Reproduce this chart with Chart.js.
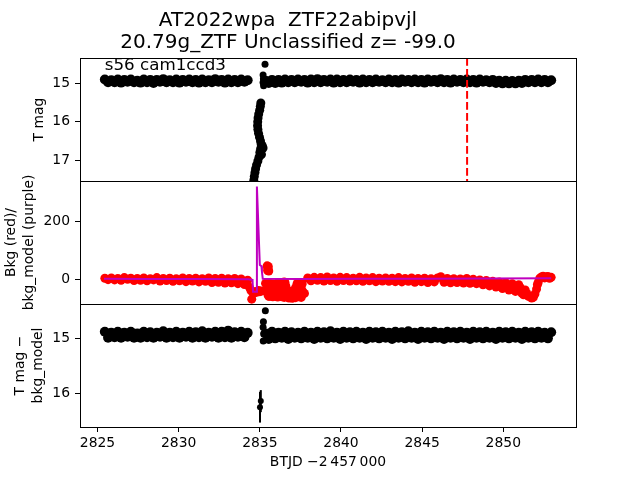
<!DOCTYPE html>
<html>
<head>
<meta charset="utf-8">
<script src="https://cdn.jsdelivr.net/npm/chart.js@4.4.0/dist/chart.umd.min.js"></script>
<style>
    html, body { margin: 0; padding: 0; background: #fff; }
    #wrap { width: 640px; height: 480px; }
</style>
</head>
<body>
<div id="wrap"><canvas id="lcChart" width="640" height="480"></canvas></div>
<script>
// ============ Data ============
const titleLines = ['AT2022wpa  ZTF22abipvjl', '20.79g_ZTF Unclassified z= -99.0'];
const sectorLabel = 's56 cam1ccd3';

const xTicks = [2825, 2830, 2835, 2840, 2845, 2850];
const magTicks = [15, 16, 17];
const bkgTicks = [0, 200];
const diffTicks = [15, 16];

const xRange = [2823.92, 2854.48];
const magRange = [14.34, 17.54];
const bkgRange = [-87, 342];
const diffRange = [14.376, 16.61];

const flagTime = 2847.77;

// sampled times of the two orbits (before / after the gap)
const timesLeft = [
    2825.45, 2825.65, 2825.85, 2826.05, 2826.25, 2826.45, 2826.65, 2826.85, 2827.05, 2827.25,
    2827.45, 2827.65, 2827.85, 2828.05, 2828.25, 2828.45, 2828.65, 2828.85, 2829.05, 2829.25,
    2829.45, 2829.65, 2829.85, 2830.05, 2830.25, 2830.45, 2830.65, 2830.85, 2831.05, 2831.25,
    2831.45, 2831.65, 2831.85, 2832.05, 2832.25, 2832.45, 2832.65, 2832.85, 2833.05, 2833.25,
    2833.45, 2833.65, 2833.85, 2834.05, 2834.25
];
const timesRight = [
    2835.35, 2835.55, 2835.75, 2835.95, 2836.15, 2836.35, 2836.55, 2836.75, 2836.95, 2837.15,
    2837.35, 2837.55, 2837.75, 2837.95, 2838.15, 2838.35, 2838.55, 2838.75, 2838.95, 2839.15,
    2839.35, 2839.55, 2839.75, 2839.95, 2840.15, 2840.35, 2840.55, 2840.75, 2840.95, 2841.15,
    2841.35, 2841.55, 2841.75, 2841.95, 2842.15, 2842.35, 2842.55, 2842.75, 2842.95, 2843.15,
    2843.35, 2843.55, 2843.75, 2843.95, 2844.15, 2844.35, 2844.55, 2844.75, 2844.95, 2845.15,
    2845.35, 2845.55, 2845.75, 2845.95, 2846.15, 2846.35, 2846.55, 2846.75, 2846.95, 2847.15,
    2847.35, 2847.55, 2847.75, 2847.95, 2848.15, 2848.35, 2848.55, 2848.75, 2848.95, 2849.15,
    2849.35, 2849.55, 2849.75, 2849.95, 2850.15, 2850.35, 2850.55, 2850.75, 2850.95, 2851.15,
    2851.35, 2851.55, 2851.75, 2851.95, 2852.15, 2852.35, 2852.55, 2852.75, 2852.95
];

// panel 1: T mag
const magLeft = [
    14.90, 14.97, 14.92, 14.97, 14.90, 14.98, 14.91, 14.96, 14.90, 14.97,
    14.93, 14.98, 14.90, 14.97, 14.91, 14.99, 14.91, 14.96, 14.89, 14.97,
    14.92, 14.97, 14.90, 14.98, 14.91, 14.96, 14.90, 14.97, 14.91, 14.98,
    14.90, 14.97, 14.92, 14.97, 14.89, 14.96, 14.91, 14.98, 14.90, 14.97,
    14.91, 14.97, 14.90, 14.96, 14.92
];
const magRight = [
    14.93, 14.99, 14.91, 14.99, 14.91, 14.98, 14.90, 14.97, 14.91, 14.97,
    14.90, 14.96, 14.91, 14.98, 14.90, 14.97, 14.89, 14.97, 14.91, 14.96,
    14.90, 14.98, 14.90, 14.97, 14.91, 14.97, 14.90, 14.96, 14.91, 14.98,
    14.90, 14.97, 14.91, 14.97, 14.90, 14.96, 14.92, 14.97, 14.90, 14.97,
    14.91, 14.98, 14.90, 14.96, 14.91, 14.97, 14.90, 14.97, 14.91, 14.98,
    14.90, 14.96, 14.91, 14.97, 14.89, 14.97, 14.91, 14.98, 14.90, 14.96,
    14.91, 14.97, 14.90, 14.97, 14.91, 14.98, 14.90, 14.96, 14.92, 14.97,
    14.91, 14.99, 14.93, 15.00, 14.93, 15.00, 14.94, 15.00, 14.93, 14.99,
    14.91, 14.97, 14.91, 14.97, 14.90, 14.97, 14.91, 14.97, 14.92
];
const magExtraT = [2835.32, 2835.20, 2835.22, 2835.20, 2835.23];
const magExtraV = [14.50, 14.78, 14.88, 14.98, 15.06];
const streakT = [
    2835.06, 2835.03, 2834.99, 2834.93, 2834.89, 2834.87, 2834.86, 2834.88, 2834.92, 2834.98,
    2835.04, 2835.08, 2835.15, 2835.20, 2835.05, 2835.00, 2835.10, 2834.95, 2834.88, 2834.80,
    2834.74, 2834.70, 2834.66, 2834.63, 2834.62
];
const streakMag = [
    15.51, 15.60, 15.70, 15.80, 15.90, 16.00, 16.10, 16.20, 16.30, 16.40,
    16.50, 16.58, 16.62, 16.68, 16.70, 16.80, 16.85, 16.92, 17.02, 17.12,
    17.22, 17.32, 17.42, 17.52, 17.60
];

// panel 2: background flux (red) and background model (purple)
const bkgLeft = [
    3, -2, 4, -3, 2, -4, 5, -1, 3, -5,
    2, -4, 4, -6, 1, -3, 5, -7, 2, -5,
    3, -8, 1, -6, 4, -9, 2, -7, 3, -10,
    1, -8, 4, -12, 2, -11, 3, -14, 1, -13,
    2, -16, 0, -19, -4
];
const bkgRight = [
    -15, -60, -20, -55, -12, -62, -12, -58, -45, -60,
    -40, -64, -50, 4, -6, 6, -4, 5, -7, 7,
    -5, 4, -8, 6, -5, 5, -7, 3, -6, 6,
    -8, 4, -6, 5, -9, 3, -7, 4, -8, 3,
    -9, 5, -10, 2, -8, 4, -11, 2, -9, 3,
    -12, 1, -10, 4, 8, -11, 2, -13, 1, -12,
    0, -14, 2, -15, -1, -16, -3, -20, -5, -24,
    -8, -28, -10, -33, -13, -38, -16, -43, -20, -50,
    -38, -60, -66, -52, -12, 7, 4, 9, 6
];
const bkgExtraT = [
    2834.35, 2834.45, 2834.50, 2834.55, 2834.62, 2834.70, 2834.80, 2834.92, 2835.00, 2835.10,
    2835.45, 2835.48, 2835.50, 2835.52, 2835.55,
    2835.45, 2835.65, 2835.85, 2836.05, 2836.25, 2836.45, 2836.50, 2836.65, 2836.85, 2837.05,
    2837.25, 2837.30, 2837.45, 2837.60, 2837.65,
    2850.85, 2851.05, 2851.25, 2851.45, 2851.65, 2851.85, 2852.05, 2852.10, 2852.25, 2852.45,
    2852.65, 2852.85
];
const bkgExtraV = [
    -28, -40, -70, -45, -50, -44, -46, -40, -44, -42,
    46, 30, 38, 44, 28,
    -35, -40, -45, -30, -40, -48, -10, -55, -62, -50,
    -55, -15, -30, -12, -45,
    -28, -30, -55, -50, -62, -64, -35, -20, 3, 10,
    8, 3
];
// the deep background dip right after the gap
const dipT = [
    2835.5, 2835.6, 2835.7, 2835.8, 2835.9, 2836.0, 2836.1, 2836.2, 2836.3, 2836.4, 2836.5,
    2836.6, 2836.7, 2836.8, 2836.9, 2837.0, 2837.1, 2837.2, 2837.3, 2837.4, 2837.5, 2837.6
];
const dipUpper = [-18, -15, -20, -16, -22, -18, -14, -20, -17, -22, -15, -24, -38, -46, -50, -48, -40, -30, -20, -16, -22, -18];
const dipMid = [-36, -38, -35, -40, -37, -39, -36, -38, -40, -37, -35, -52, -56, -58, -60, -58, -55, -50, -40, -38, -36, -40];
const dipLower = [-55, -60, -52, -62, -58, -56, -63, -55, -60, -58, -64, -60, -62, -66, -64, -67, -63, -65, -60, -62, -58, -55];

const modelT = [2825.40, 2828.00, 2831.00, 2834.30, 2834.55, 2834.58, 2834.78, 2834.82, 2835.00, 2835.10, 2835.13, 2835.18, 2837.50, 2841.00, 2845.00, 2849.00, 2852.95];
const modelV = [1, 0, 0, -1, -3, -44, -44, 323, 49, 45, 25, 1, 0, 1, 1, 2, 3];

// panel 3: T mag - bkg_model
const diffLeft = [
    14.88, 14.99, 14.90, 14.98, 14.88, 14.99, 14.90, 14.97, 14.88, 14.99,
    14.91, 14.99, 14.88, 14.98, 14.89, 14.99, 14.90, 14.97, 14.87, 14.99,
    14.90, 14.98, 14.88, 14.99, 14.90, 14.97, 14.88, 14.99, 14.89, 14.98,
    14.87, 14.99, 14.90, 14.97, 14.88, 14.99, 14.88, 14.98, 14.86, 14.99,
    14.89, 14.97, 14.88, 14.98, 14.90
];
const diffRight = [
    14.91, 15.01, 14.88, 15.00, 14.90, 14.99, 14.88, 15.01, 14.89, 14.99,
    14.90, 15.00, 14.88, 14.99, 14.90, 15.01, 14.88, 14.99, 14.89, 15.00,
    14.87, 14.99, 14.90, 15.01, 14.88, 14.99, 14.89, 15.00, 14.88, 14.99,
    14.90, 15.01, 14.88, 14.99, 14.89, 15.00, 14.88, 14.99, 14.90, 15.01,
    14.88, 14.99, 14.89, 15.00, 14.87, 14.99, 14.90, 15.01, 14.88, 14.99,
    14.89, 15.00, 14.88, 14.99, 14.90, 15.01, 14.88, 14.99, 14.89, 15.00,
    14.88, 14.99, 14.90, 15.01, 14.88, 14.99, 14.89, 15.00, 14.88, 14.99,
    14.90, 15.01, 14.88, 14.99, 14.89, 15.00, 14.88, 14.99, 14.90, 15.01,
    14.88, 14.99, 14.89, 15.00, 14.88, 14.99, 14.90, 15.00, 14.89
];
const diffExtraT = [2835.34, 2835.22, 2835.20, 2835.24, 2835.21];
const diffExtraV = [14.50, 14.70, 14.80, 14.92, 15.05];
const errT = [2835.01, 2835.06];
const errMag = [16.25, 16.14];
const errSize = [0.28, 0.20];

// ============ Style ============
const STYLE = {
    font: "'DejaVu Sans', sans-serif",
    tickSize: 13.9,
    textSize: 16.7,
    titleSize: 20,
    black: '#000000',
    red: '#ff0000',
    purple: '#bf00bf'
};

// ============ Helpers ============
const zipXY = (xs, ys) => xs.map((x, i) => ({ x, y: ys[i] }));

const dots = (yAxisID, data, color, radius, order) => ({
    yAxisID, data, order,
    showLine: false,
    pointRadius: radius,
    pointHoverRadius: radius,
    pointBackgroundColor: color,
    pointBorderWidth: 0
});

const line = (yAxisID, data, color, width, dash, order) => ({
    yAxisID, data, order,
    showLine: true,
    borderColor: color,
    borderWidth: width,
    borderDash: dash,
    pointRadius: 0,
    fill: false,
    tension: 0
});

const tickGrid = { display: true, drawOnChartArea: false, drawTicks: true, tickLength: 5, color: STYLE.black, lineWidth: 1 };

// titlePad moves the y label away from the left edge (matplotlib puts it next to the tick labels)
const panelScale = (range, ticks, title, weight, titlePad, reverse) => ({
    type: 'linear',
    position: 'left',
    stack: 'panels',
    stackWeight: 1,
    weight,
    min: range[0],
    max: range[1],
    reverse,
    afterBuildTicks: (s) => { s.ticks = ticks.map(value => ({ value })); },
    afterFit: (s) => { s.width = 80; },
    grid: tickGrid,
    border: { display: false },
    ticks: { color: STYLE.black, padding: 5, callback: (v) => String(v) },
    title: {
        display: true, text: title, color: STYLE.black,
        font: { size: STYLE.tickSize, lineHeight: 1.33 },
        padding: { top: titlePad, bottom: 0 }
    }
});

// ============ Plugins ============
// clip each dataset to its own panel and draw error bars
const panelClip = {
    id: 'panelClip',
    beforeDatasetDraw(chart, args) {
        const { ctx, chartArea } = chart;
        const ys = chart.scales[args.meta.yAxisID];
        ctx.save();
        ctx.beginPath();
        ctx.rect(chartArea.left, ys.top, chartArea.right - chartArea.left, ys.bottom - ys.top);
        ctx.clip();
    },
    afterDatasetDraw(chart, args) {
        const { ctx } = chart;
        const ds = chart.data.datasets[args.index];
        if (ds.yerr) {
            const xs = chart.scales.x;
            const ys = chart.scales[ds.yAxisID];
            ctx.strokeStyle = STYLE.black;
            ctx.lineWidth = 2;
            ds.data.forEach((p, i) => {
                const px = xs.getPixelForValue(p.x);
                ctx.beginPath();
                ctx.moveTo(px, ys.getPixelForValue(p.y - ds.yerr[i]));
                ctx.lineTo(px, ys.getPixelForValue(p.y + ds.yerr[i]));
                ctx.stroke();
            });
        }
        ctx.restore();
    }
};

// frame around every panel and the sector label
const panelFrame = {
    id: 'panelFrame',
    afterDraw(chart) {
        const { ctx, chartArea: a } = chart;
        ctx.save();
        ctx.strokeStyle = STYLE.black;
        ctx.lineWidth = 1;
        ['yMag', 'yBkg', 'yDiff'].forEach(id => {
            const s = chart.scales[id];
            ctx.strokeRect(a.left + 0.5, Math.round(s.top) + 0.5, a.right - a.left, Math.round(s.bottom - s.top));
        });
        const top = chart.scales.yMag;
        ctx.fillStyle = STYLE.black;
        ctx.font = `${STYLE.textSize}px ${STYLE.font}`;
        ctx.textBaseline = 'alphabetic';
        ctx.fillText(sectorLabel, a.left + 0.05 * (a.right - a.left), top.bottom - 0.9 * (top.bottom - top.top));
        ctx.restore();
    }
};

// ============ Chart ============
Chart.defaults.font.family = STYLE.font;
Chart.defaults.font.size = STYLE.tickSize;
Chart.defaults.color = STYLE.black;

const allTimes = timesLeft.concat(timesRight);

const datasets = [
    // panel 1
    line('yMag', [{ x: flagTime, y: magRange[0] }, { x: flagTime, y: magRange[1] }], STYLE.red, 2, [7.7, 3.3], 0),
    dots('yMag', zipXY(allTimes, magLeft.concat(magRight)), STYLE.black, 5, 1),
    dots('yMag', zipXY(magExtraT, magExtraV), STYLE.black, 3.5, 1),
    dots('yMag', zipXY(streakT, streakMag), STYLE.black, 4.5, 1),
    // panel 2
    line('yBkg', zipXY(modelT, modelV), STYLE.purple, 2, [], 0),
    dots('yBkg', zipXY(allTimes, bkgLeft.concat(bkgRight)), STYLE.red, 4.5, 1),
    dots('yBkg', zipXY(bkgExtraT, bkgExtraV), STYLE.red, 4.5, 1),
    dots('yBkg', zipXY(dipT, dipUpper), STYLE.red, 4.5, 1),
    dots('yBkg', zipXY(dipT, dipMid), STYLE.red, 4.5, 1),
    dots('yBkg', zipXY(dipT, dipLower), STYLE.red, 4.5, 1),
    // panel 3
    dots('yDiff', zipXY(allTimes, diffLeft.concat(diffRight)), STYLE.black, 5, 1),
    dots('yDiff', zipXY(diffExtraT, diffExtraV), STYLE.black, 3.5, 1),
    Object.assign(dots('yDiff', zipXY(errT, errMag), STYLE.black, 3, 1), { yerr: errSize })
];

new Chart(document.getElementById('lcChart').getContext('2d'), {
    type: 'scatter',
    data: { datasets },
    plugins: [panelClip, panelFrame],
    options: {
        responsive: false,
        devicePixelRatio: 1,
        animation: false,
        events: [],
        layout: { padding: { left: 0, right: 64, top: 0, bottom: 0 } },
        plugins: {
            legend: { display: false },
            tooltip: { enabled: false },
            title: {
                display: true,
                text: titleLines,
                color: STYLE.black,
                font: { size: STYLE.titleSize, weight: 'normal', lineHeight: 1.1 },
                padding: { top: 9.6, bottom: 4.4 }
            }
        },
        scales: {
            x: {
                type: 'linear',
                position: 'bottom',
                min: xRange[0],
                max: xRange[1],
                afterBuildTicks: (s) => { s.ticks = xTicks.map(value => ({ value })); },
                afterFit: (s) => { s.height = 53; },
                grid: tickGrid,
                border: { display: false },
                ticks: { color: STYLE.black, padding: 3, maxRotation: 0, autoSkip: false, callback: (v) => String(v) },
                title: {
                    display: true,
                    text: 'BTJD \u22122\u2009457\u2009000',
                    color: STYLE.black,
                    font: { size: STYLE.tickSize, lineHeight: 1.2 },
                    padding: { top: 0, bottom: 9 }
                }
            },
            yMag: panelScale(magRange, magTicks, 'T mag', 3, 29.8, true),
            yBkg: panelScale(bkgRange, bkgTicks, ['Bkg (red)/', 'bkg_model (purple)'], 2, 2.0, false),
            yDiff: panelScale(diffRange, diffTicks, ['T mag \u2212', 'bkg_model'], 1, 10.8, true)
        }
    }
});
</script>
</body>
</html>
